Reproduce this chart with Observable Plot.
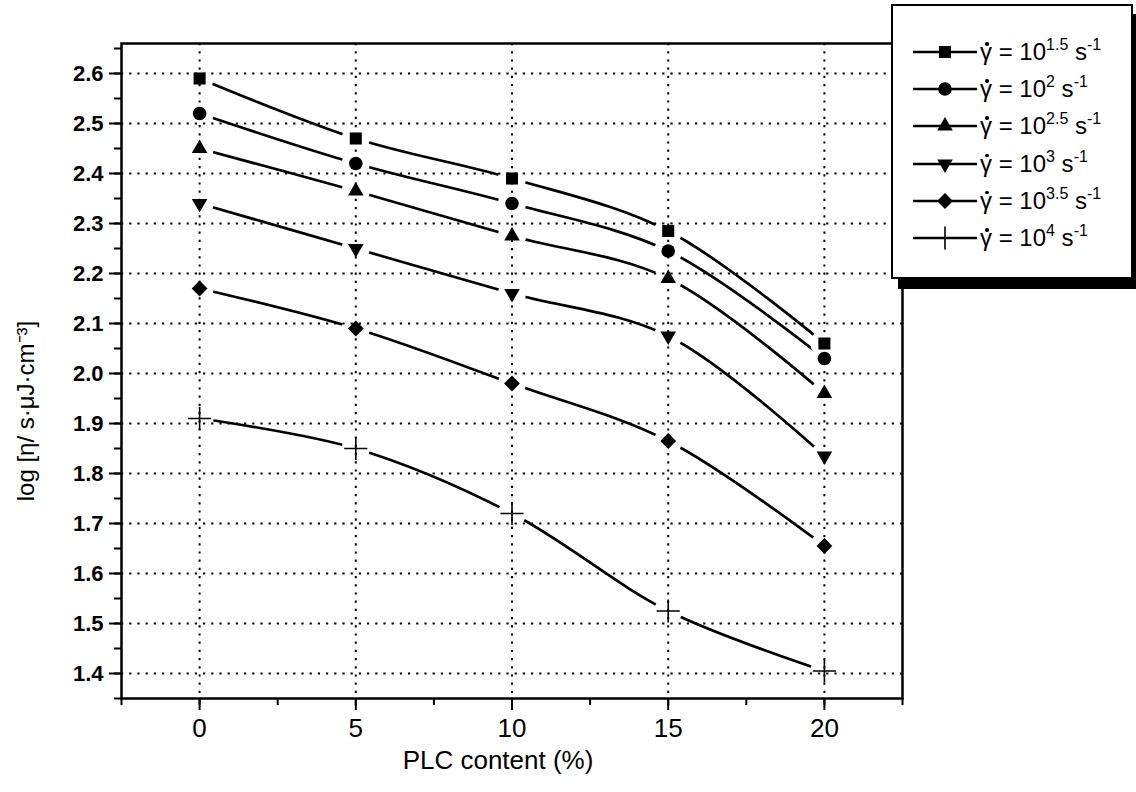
<!DOCTYPE html>
<html><head><meta charset="utf-8">
<script src="https://cdn.jsdelivr.net/npm/d3@7"></script>
<script src="https://cdn.jsdelivr.net/npm/@observablehq/plot@0.6"></script>
<style>
html,body{margin:0;padding:0;background:#fff;overflow:hidden}
#wrap{position:relative;width:1136px;height:792px;font-family:"Liberation Sans",Arial,sans-serif}
#legend{position:absolute;left:891px;top:4px;width:238px;height:271px;border:2px solid #000;background:#fff;box-shadow:7px 10px 0 0 #000}
.row{position:absolute;left:0;height:30px;display:flex;align-items:center;font-size:24px;white-space:nowrap;color:#000}
.row svg{flex:none}
.row sup{font-size:16px;vertical-align:0;position:relative;top:-10px}
.gd{position:relative;display:inline-block}
.gd::after{content:"";position:absolute;left:5px;top:4px;width:3.5px;height:3.5px;border-radius:50%;background:#000}
</style></head><body><div id="wrap"><div id="chart"></div><div id="legend"></div></div>
<script>
// PLC content (%)
const plc = [0, 5, 10, 15, 20];
// shear-rate exponents (gamma-dot = 10^exp s^-1)
const rateExp = ["1.5", "2", "2.5", "3", "3.5", "4"];
// log viscosity values per series
const s1 = [2.59, 2.47, 2.39, 2.285, 2.06];
const s2 = [2.52, 2.42, 2.34, 2.245, 2.03];
const s3 = [2.45, 2.365, 2.275, 2.19, 1.96];
const s4 = [2.34, 2.25, 2.16, 2.075, 1.835];
const s5 = [2.17, 2.09, 1.98, 1.865, 1.655];
const s6 = [1.91, 1.85, 1.72, 1.525, 1.405];
const xTicks = [0, 5, 10, 15, 20];
const yTicks = [1.4, 1.5, 1.6, 1.7, 1.8, 1.9, 2.0, 2.1, 2.2, 2.3, 2.4, 2.5, 2.6];
const xTitle = "PLC content (%)";
const yTitle = "log [η/ s·μJ·cm⁻³]";

const seriesVals = [s1, s2, s3, s4, s5, s6];
const data = seriesVals.flatMap((vals, i) => vals.map((v, j) => ({series: i, x: plc[j], y: v})));

const styles = [
  {symbol: "square", rotate: 0, r: 6.8, fill: "black", stroke: "none", strokeWidth: 0},
  {symbol: "circle", rotate: 0, r: 6.8, fill: "black", stroke: "none", strokeWidth: 0},
  {symbol: "triangle", rotate: 0, r: 5.8, fill: "black", stroke: "none", strokeWidth: 0},
  {symbol: "triangle", rotate: 180, r: 5.8, fill: "black", stroke: "none", strokeWidth: 0},
  {symbol: "square", rotate: 45, r: 6.3, fill: "black", stroke: "none", strokeWidth: 0},
  {symbol: "plus", rotate: 0, r: 7.5, fill: "none", stroke: "black", strokeWidth: 1.6}
];

const xMinor = d3.range(11).map(i => -2.5 + i * 2.5);
const yMinor = d3.range(27).map(i => +(1.35 + i * 0.05).toFixed(2));

const dotMarks = styles.map((s, i) => Plot.dot(data.filter(d => d.series === i), {
  x: "x", y: "y", symbol: s.symbol, rotate: s.rotate, r: s.r,
  fill: s.fill, stroke: s.stroke, strokeWidth: s.strokeWidth
}));

const chart = Plot.plot({
  width: 1136, height: 792,
  marginLeft: 121, marginRight: 234, marginTop: 43, marginBottom: 94,
  style: {fontFamily: "'Liberation Sans', Arial, sans-serif", background: "white", color: "black"},
  x: {domain: [-2.5, 22.5]},
  y: {domain: [1.35, 2.66]},
  marks: [
    Plot.line(data, {x: "x", y: "y", z: "series", curve: "catmull-rom", stroke: "black", strokeWidth: 2.7}),
    Plot.dot(data, {x: "x", y: "y", r: 14, symbol: "circle", fill: "white", stroke: "none", className: "halo"}),
    Plot.ruleY(yTicks, {y: d => d, stroke: "black", strokeWidth: 2, strokeDasharray: "2.2,6"}),
    Plot.ruleX(xTicks, {x: d => d, stroke: "black", strokeWidth: 2, strokeDasharray: "2.2,6"}),
    Plot.frame({stroke: "black", strokeWidth: 2.5}),
    Plot.axisY({ticks: yMinor, tickSize: 7, strokeWidth: 2, text: null, label: null}),
    Plot.axisY({ticks: yTicks, tickSize: 12, tickPadding: 6, strokeWidth: 2, tickFormat: d3.format(".1f"), fontSize: 22, fontWeight: "bold", label: null}),
    Plot.axisX({ticks: xMinor, tickSize: 7, strokeWidth: 2, text: null, label: null}),
    Plot.axisX({ticks: xTicks, tickSize: 12, tickPadding: 8, strokeWidth: 2, tickFormat: d => String(d), fontSize: 26, label: null}),
    Plot.text([yTitle], {text: d => d, frameAnchor: "left", textAnchor: "middle", rotate: -90, dx: -95, dy: 40, fontSize: 24}),
    Plot.text([xTitle], {text: d => d, frameAnchor: "bottom", dx: -14, dy: 70, fontSize: 26}),
    ...dotMarks
  ]
});
document.getElementById("chart").appendChild(chart);

// cut the curves short of each marker with a mask built from the scaled point positions
const NS = "http://www.w3.org/2000/svg";
const lineG = chart.querySelector('g[aria-label="line"]');
const haloG = chart.querySelector('g.halo') || chart.querySelectorAll('g[aria-label="dot"]')[0];
if (lineG && haloG) {
  const defs = document.createElementNS(NS, "defs");
  const mask = document.createElementNS(NS, "mask");
  mask.setAttribute("id", "gapmask");
  mask.setAttribute("maskUnits", "userSpaceOnUse");
  mask.setAttribute("x", "-10"); mask.setAttribute("y", "-10");
  mask.setAttribute("width", "1160"); mask.setAttribute("height", "820");
  const bg = document.createElementNS(NS, "rect");
  bg.setAttribute("x", "-10"); bg.setAttribute("y", "-10");
  bg.setAttribute("width", "1160"); bg.setAttribute("height", "820");
  bg.setAttribute("fill", "white");
  mask.appendChild(bg);
  haloG.querySelectorAll("circle").forEach(c => {
    const h = document.createElementNS(NS, "circle");
    h.setAttribute("cx", c.getAttribute("cx"));
    h.setAttribute("cy", c.getAttribute("cy"));
    h.setAttribute("r", "14");
    h.setAttribute("fill", "black");
    mask.appendChild(h);
  });
  defs.appendChild(mask);
  chart.insertBefore(defs, chart.firstChild);
  lineG.setAttribute("mask", "url(#gapmask)");
  haloG.remove();
}

// legend
const legend = document.getElementById("legend");
const symMap = {square: d3.symbolSquare, circle: d3.symbolCircle, triangle: d3.symbolTriangle, plus: d3.symbolPlus};
rateExp.forEach((e, i) => {
  const s = styles[i];
  const cy = 52 + 37.2 * i;
  const row = document.createElement("div");
  row.className = "row";
  row.style.top = (cy - 6 - 15) + "px";
  const path = d3.symbol(symMap[s.symbol], Math.PI * s.r * s.r)();
  row.innerHTML =
    `<svg width="87" height="30"><line x1="20" x2="84" y1="15" y2="15" stroke="black" stroke-width="2.4"/>` +
    `<path d="${path}" transform="translate(52,15) rotate(${s.rotate})" fill="${s.fill}" stroke="${s.stroke}" stroke-width="${s.strokeWidth}"/></svg>` +
    `<span><span class="gd">γ</span> = 10<sup>${e}</sup> s<sup>-1</sup></span>`;
  legend.appendChild(row);
});
</script></body></html>
